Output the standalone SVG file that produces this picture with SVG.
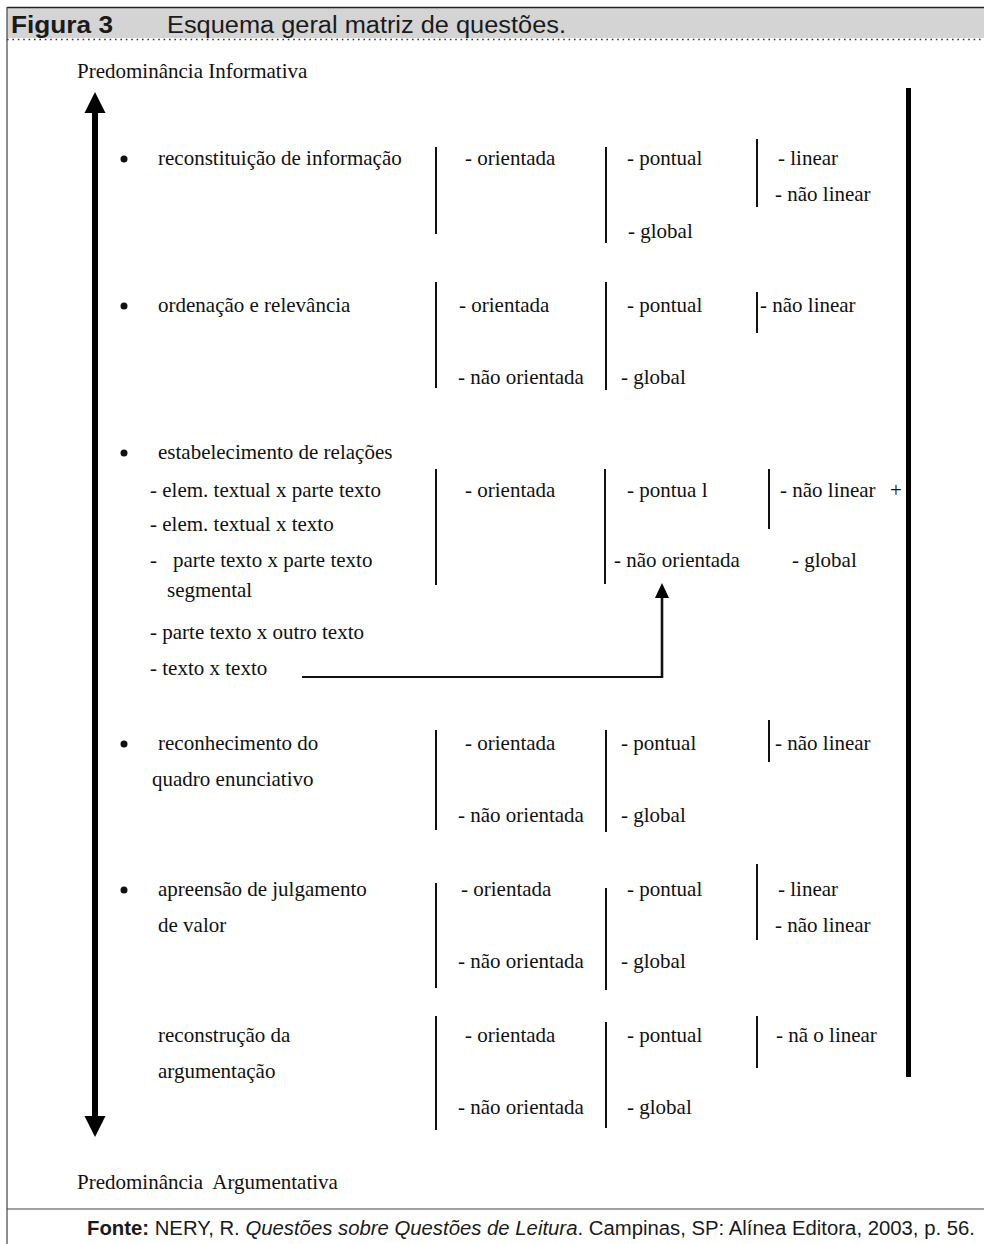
<svg xmlns="http://www.w3.org/2000/svg" width="984" height="1244" viewBox="0 0 984 1244">
  <defs>
    <style>
      .t{font-family:"Liberation Serif","Times New Roman",serif;font-size:21px;fill:#111}
      .s{font-family:"Liberation Sans",Arial,sans-serif;fill:#1a1a1a}
      .v{stroke:#111;stroke-width:2;fill:none}
      .dot{fill:#111}
    </style>
  </defs>

  <rect width="984" height="1244" fill="#fff"/>

  <!-- title band -->
  <g id="title">
    <rect x="7" y="7" width="977" height="31" fill="#d4d4d4"/>
    <line x1="7" y1="7.5" x2="984" y2="7.5" stroke="#222" stroke-width="1.5"/>
    <line x1="7" y1="39.5" x2="984" y2="39.5" stroke="#333" stroke-width="1.6" stroke-dasharray="1.6 3.8"/>
    <text class="s" x="11" y="32.5" font-size="23" font-weight="bold" textLength="102" lengthAdjust="spacingAndGlyphs">Figura 3</text>
    <text class="s" x="167" y="32.5" font-size="23" textLength="399" lengthAdjust="spacingAndGlyphs">Esquema geral matriz de questões.</text>
  </g>

  <!-- frame -->
  <line x1="7" y1="7" x2="7" y2="1244" stroke="#444" stroke-width="1.2"/>
  <line x1="7" y1="1209" x2="984" y2="1209" stroke="#444" stroke-width="1.2"/>

  <!-- axis labels -->
  <g id="axis-top"><text class="t" x="77" y="78">Predominância Informativa</text></g>
  <g id="axis-bottom"><text class="t" x="77" y="1189">Predominância&#160; Argumentativa</text></g>

  <!-- connectors -->
  <g id="connectors">
    <line x1="95" y1="110" x2="95" y2="1118" stroke="#000" stroke-width="6"/>
    <polygon points="95,92 105.5,113 84.5,113" fill="#000"/>
    <polygon points="84.5,1116 105.5,1116 95,1137" fill="#000"/>
    <rect x="906" y="88" width="5" height="989" fill="#000"/>
    <path d="M302,677 H662" stroke="#111" stroke-width="2" fill="none"/>
    <path d="M662,678 V596" stroke="#111" stroke-width="2.6" fill="none"/>
    <polygon points="662,583 669,598 655,598" fill="#000"/>
  </g>

  <!-- reconstituição de informação -->
  <g id="reconstituicao">
    <circle class="dot" cx="124" cy="159" r="3.5"/>
    <text class="t" x="158" y="165">reconstituição de informação</text>
    <line class="v" x1="436" y1="147" x2="436" y2="234"/>
    <text class="t" x="465" y="165">- orientada</text>
    <line class="v" x1="606" y1="147" x2="606" y2="243"/>
    <text class="t" x="627" y="165">- pontual</text>
    <text class="t" x="628" y="238">- global</text>
    <line class="v" x1="757" y1="139" x2="757" y2="207"/>
    <text class="t" x="778" y="165">- linear</text>
    <text class="t" x="775" y="201">- não linear</text>
  </g>

  <!-- ordenação e relevância -->
  <g id="ordenacao">
    <circle class="dot" cx="124" cy="306" r="3.5"/>
    <text class="t" x="158" y="312">ordenação e relevância</text>
    <line class="v" x1="436" y1="282" x2="436" y2="388"/>
    <text class="t" x="459" y="312">-  orientada</text>
    <text class="t" x="458" y="384">- não orientada</text>
    <line class="v" x1="606" y1="282" x2="606" y2="390"/>
    <text class="t" x="627" y="312">- pontual</text>
    <text class="t" x="621" y="384">- global</text>
    <line class="v" x1="757" y1="292" x2="757" y2="333"/>
    <text class="t" x="760" y="312">- não linear</text>
  </g>

  <!-- estabelecimento de relações -->
  <g id="estabelecimento">
    <circle class="dot" cx="124" cy="453" r="3.5"/>
    <text class="t" x="158" y="459">estabelecimento de relações</text>
    <text class="t" x="150" y="497">- elem. textual x parte texto</text>
    <text class="t" x="150" y="531">- elem. textual x texto</text>
    <text class="t" x="150" y="567">-</text>
    <text class="t" x="173" y="567">parte texto x parte texto</text>
    <text class="t" x="167" y="597">segmental</text>
    <text class="t" x="150" y="639">- parte texto x outro texto</text>
    <text class="t" x="150" y="675">- texto x texto</text>
    <line class="v" x1="436" y1="469" x2="436" y2="585"/>
    <text class="t" x="465" y="497">- orientada</text>
    <line class="v" x1="605" y1="469" x2="605" y2="584"/>
    <text class="t" x="627" y="497">- pontua l</text>
    <text class="t" x="614" y="567">- não orientada</text>
    <line class="v" x1="769" y1="469" x2="769" y2="529"/>
    <text class="t" x="780" y="497">- não linear</text>
    <text class="t" x="890" y="497" fill="#666">+</text>
    <text class="t" x="792" y="567">- global</text>
  </g>

  <!-- reconhecimento do quadro enunciativo -->
  <g id="reconhecimento">
    <circle class="dot" cx="124" cy="744" r="3.5"/>
    <text class="t" x="158" y="750">reconhecimento do</text>
    <text class="t" x="152" y="786">quadro enunciativo</text>
    <line class="v" x1="436" y1="730" x2="436" y2="830"/>
    <text class="t" x="465" y="750">- orientada</text>
    <text class="t" x="458" y="822">- não orientada</text>
    <line class="v" x1="606" y1="730" x2="606" y2="832"/>
    <text class="t" x="621" y="750">- pontual</text>
    <text class="t" x="621" y="822">- global</text>
    <line class="v" x1="769" y1="720" x2="769" y2="762"/>
    <text class="t" x="775" y="750">- não linear</text>
  </g>

  <!-- apreensão de julgamento de valor -->
  <g id="apreensao">
    <circle class="dot" cx="124" cy="890" r="3.5"/>
    <text class="t" x="158" y="896">apreensão de julgamento</text>
    <text class="t" x="158" y="932">de valor</text>
    <line class="v" x1="436" y1="883" x2="436" y2="988"/>
    <text class="t" x="461" y="896">- orientada</text>
    <text class="t" x="458" y="968">- não orientada</text>
    <line class="v" x1="606" y1="888" x2="606" y2="990"/>
    <text class="t" x="627" y="896">- pontual</text>
    <text class="t" x="621" y="968">- global</text>
    <line class="v" x1="757" y1="864" x2="757" y2="940"/>
    <text class="t" x="778" y="896">- linear</text>
    <text class="t" x="775" y="932">- não linear</text>
  </g>

  <!-- reconstrução da argumentação -->
  <g id="reconstrucao">
    <text class="t" x="158" y="1042">reconstrução da</text>
    <text class="t" x="158" y="1078">argumentação</text>
    <line class="v" x1="436" y1="1016" x2="436" y2="1130"/>
    <text class="t" x="465" y="1042">- orientada</text>
    <text class="t" x="458" y="1114">- não orientada</text>
    <line class="v" x1="606" y1="1022" x2="606" y2="1128"/>
    <text class="t" x="627" y="1042">- pontual</text>
    <text class="t" x="627" y="1114">- global</text>
    <line class="v" x1="757" y1="1016" x2="757" y2="1068"/>
    <text class="t" x="776" y="1042">- nã o linear</text>
  </g>

  <!-- source line -->
  <g id="fonte">
    <text class="s" x="87" y="1235" font-size="20" textLength="888" lengthAdjust="spacingAndGlyphs"><tspan font-weight="bold">Fonte:</tspan> NERY, R. <tspan font-style="italic">Questões sobre Questões de Leitura</tspan>. Campinas, SP: Alínea Editora, 2003, p. 56.</text>
  </g>
</svg>
